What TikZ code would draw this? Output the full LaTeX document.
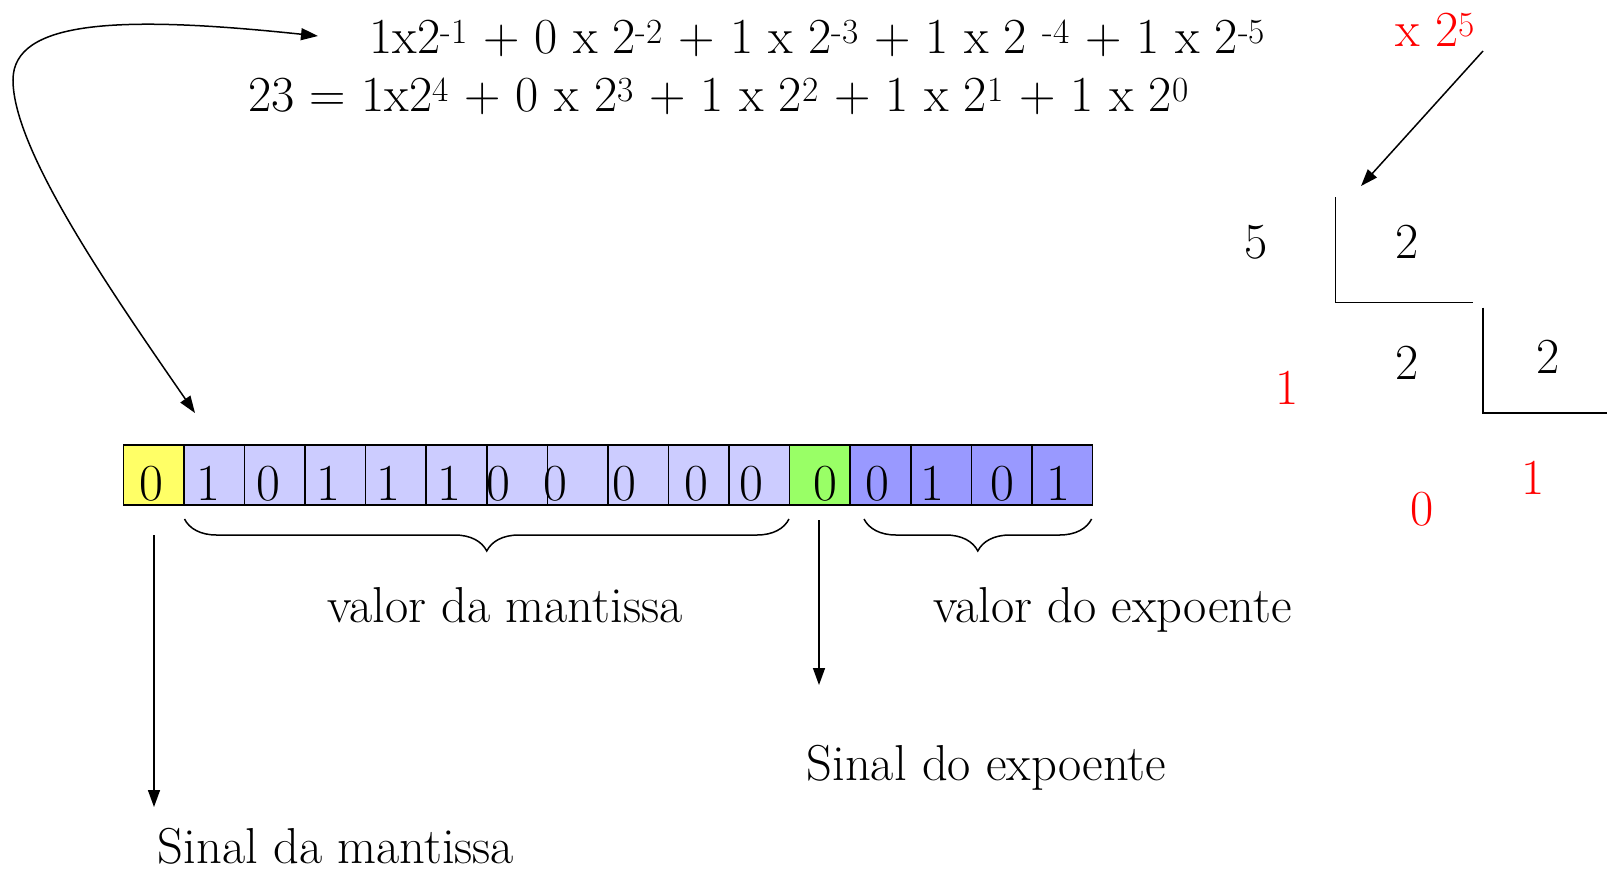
\documentclass[tikz,border=0pt]{standalone}
\usepackage{fontspec}
\usetikzlibrary{arrows.meta,decorations.pathreplacing}
\definecolor{cyel}{HTML}{FFFF66}
\definecolor{clav}{HTML}{CCCCFF}
\definecolor{cgrn}{HTML}{99FF66}
\definecolor{cblu}{HTML}{9999FF}
\definecolor{cred}{HTML}{FF0000}
\begin{document}
\begin{tikzpicture}[x=1pt,y=-1pt, line width=1.5pt,
  txt/.style={inner sep=0pt, font=\fontsize{50.5}{60}\selectfont, anchor=base},
  bit/.style={inner sep=0pt, font=\fontsize{52}{60}\selectfont, anchor=base},
  cell/.style={draw, line width=1.5pt, minimum width=60.57pt, minimum height=60pt, inner sep=0pt, anchor=north west},
  arr/.style={-{Triangle[length=17pt,width=12pt]}, line width=1.5pt},
  darr/.style={{Triangle[length=17pt,width=12pt]}-{Triangle[length=17pt,width=12pt]}, line width=1.5pt},
  brc/.style={decorate, decoration={brace, mirror, amplitude=32pt}, line width=1.5pt},
  redtxt/.style={txt, text=cred}]
\useasboundingbox (0,0) rectangle (1607,871);

% formulas
\node[txt] (f1) at (817.5,53) {1x2\textsuperscript{-1} + 0 x 2\textsuperscript{-2} + 1 x 2\textsuperscript{-3} + 1 x 2 \textsuperscript{-4} + 1 x 2\textsuperscript{-5}};
\node[txt] (f2) at (718.5,111) {23 = 1x2\textsuperscript{4} + 0 x 2\textsuperscript{3} + 1 x 2\textsuperscript{2} + 1 x 2\textsuperscript{1} + 1 x 2\textsuperscript{0}};

% cells
\foreach \i/\c in {0/cyel,1/clav,2/clav,3/clav,4/clav,5/clav,6/clav,7/clav,8/clav,9/clav,10/clav,11/cgrn,12/cblu,13/cblu,14/cblu,15/cblu}
  \node[cell, fill=\c] (c\i) at ({122.6+\i*60.57},444) {};
\foreach \i/\x/\d in {0/151/0,1/208/1,2/268/0,3/328/1,4/388/1,5/449/1,6/498/0,7/555/0,8/624.5/0,9/696/0,10/751/0,11/825/0,12/877/0,13/932/1,14/1002/0,15/1058/1}
  \node[bit] (d\i) at (\x,500) {\d};

% braces
\coordinate (bm1) at (184.5,519);
\coordinate (bm2) at (789,519);
\coordinate (be1) at (864,519);
\coordinate (be2) at (1091.6,519);
\draw[brc] (bm1) -- (bm2);
\draw[brc] (be1) -- (be2);
\node[txt] (lvm) at (505,622) {valor da mantissa};
\node[txt] (lve) at (1112.6,622) {valor do expoente};

% sign arrows
\coordinate (sm1) at (154,535);
\coordinate (sm2) at (154,807);
\draw[arr] (sm1) -- (sm2);
\node[txt] (lsm) at (336,863) {Sinal da mantissa};
\coordinate (se1) at (819,520);
\coordinate (se2) at (819,685);
\draw[arr] (se1) -- (se2);
\node[txt] (lse) at (986.5,780) {Sinal do expoente};

% curved arrow
\coordinate (cb) at (195,413);
\coordinate (ct) at (318,36);
\draw[darr] (cb) .. controls (110,290) and (13,150) .. (13,80) .. controls (13,20) and (120,15) .. (ct);

% division
\node[redtxt] (x25) at (1435.5,46) {x 2\textsuperscript{5}};
\coordinate (xa1) at (1483,51);
\coordinate (xa2) at (1361,186);
\draw[arr] (xa1) -- (xa2);
\node[txt] (n5) at (1256,258.6) {5};
\node[txt] (q1) at (1407,258.6) {2};
\draw (1335.3,197) -- (1335.3,302.6) -- (1473,302.6);
\node[txt] (n2) at (1407,379.3) {2};
\node[redtxt] (r1) at (1286.7,404.7) {1};
\node[txt] (q2) at (1548,373.6) {2};
\draw (1483,307.6) -- (1483,413.1) -- (1607,413.1);
\node[redtxt] (r2) at (1533,494.3) {1};
\node[redtxt] (r3) at (1422,525) {0};
\end{tikzpicture}
\end{document}
